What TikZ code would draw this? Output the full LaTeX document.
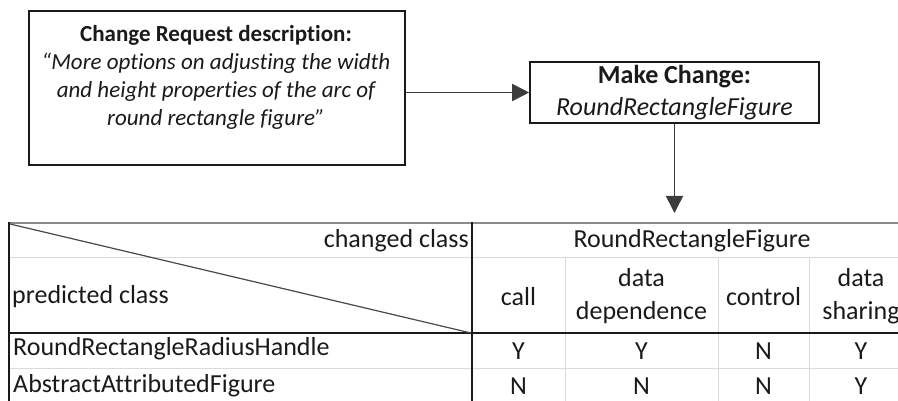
\documentclass[tikz,border=0pt]{standalone}
\usepackage{fontspec}
\setmainfont{Carlito}[Ligatures={NoCommon}]
\usetikzlibrary{arrows.meta}
\definecolor{ink}{HTML}{1A1A1A}
\definecolor{grid}{HTML}{DADADA}
\definecolor{topline}{HTML}{8A8A8A}
\definecolor{shade}{HTML}{C4C4C4}
\tikzset{
  boxframe/.style={draw=ink, line width=1.6pt, fill=white, inner sep=0pt},
  flow/.style={draw=ink!85, line width=1.6pt, -{Triangle[length=17pt,width=17pt]}},
  reqfont/.style={font=\fontsize{23}{28}\selectfont, text=ink, align=center, inner sep=0pt},
  chgfont/.style={font=\fontsize{26}{32}\selectfont, text=ink, align=center, inner sep=0pt},
  cell/.style={font=\fontsize{26}{33.5}\selectfont, text=ink, align=center, inner sep=0pt},
  thick rule/.style={draw=ink, line width=1.5pt},
  thin rule/.style={draw=grid, line width=1pt}
}
\begin{document}
\begin{tikzpicture}[x=1pt,y=-1pt]
\useasboundingbox (0,0) rectangle (898,401);
\clip (0,0) rectangle (898,401);

% change request box with its soft shadow
\fill[shade] (31,14) rectangle (403,168.5);
\node[boxframe, minimum width=376pt, minimum height=154pt] (req) at (217,88) {};
\node[reqfont] (reqtext) at (216,77.5)
  {\textbf{Change Request description:}\\
   \itshape “More options on adjusting the width\\
   \itshape and height properties of the arc of\\
   \itshape round rectangle figure”};

% make change box
\node[boxframe, minimum width=289pt, minimum height=61pt] (change) at (674.5,92.5) {};
\node[chgfont] (changetext) at (674.5,92.5)
  {\textbf{Make Change:}\\ \itshape RoundRectangleFigure};

\coordinate (tbltop) at (674.5,213);
\draw[flow] (req.east |- change.west) -- (change.west);
\draw[flow] (change.south) -- (tbltop);

% table grid
\draw[thin rule] (9,258) -- (920,258);
\draw[thin rule] (9,368.5) -- (920,368.5);
\draw[thin rule] (565,258) -- (565,401);
\draw[thin rule] (718,258) -- (718,401);
\draw[thin rule] (809,258) -- (809,401);
\draw[draw=topline, line width=2pt] (8,223) -- (920,223);
\draw[thick rule] (9,222) -- (9,401);
\draw[thick rule] (472,222) -- (472,401);
\draw[thick rule] (9,333) -- (920,333);
\draw[draw=ink!80, line width=1.2pt] (10,224) -- (471,333);

% table texts
\node[cell, anchor=east] (chg) at (469,241) {changed class};
\node[cell, anchor=west] (pred) at (12,297) {predicted class};
\node[cell] (rrf) at (692,241) {RoundRectangleFigure};
\node[cell] (hcall) at (518.5,297) {call};
\node[cell] (hdata) at (641.5,296) {data\\dependence};
\node[cell] (hctrl) at (763.5,297) {control};
\node[cell] (hshare) at (861,296) {data\\sharing};

\node[cell, anchor=west] (r1) at (13,349) {RoundRectangleRadiusHandle};
\node[cell, anchor=west] (r2) at (13,386) {AbstractAttributedFigure};

\node[cell] (r1a) at (518.5,351.5) {Y};
\node[cell] (r1b) at (641.5,351.5) {Y};
\node[cell] (r1c) at (763.5,351.5) {N};
\node[cell] (r1d) at (861,351.5) {Y};
\node[cell] (r2a) at (518.5,386.5) {N};
\node[cell] (r2b) at (641.5,386.5) {N};
\node[cell] (r2c) at (763.5,386.5) {N};
\node[cell] (r2d) at (861,386.5) {Y};
\end{tikzpicture}
\end{document}
